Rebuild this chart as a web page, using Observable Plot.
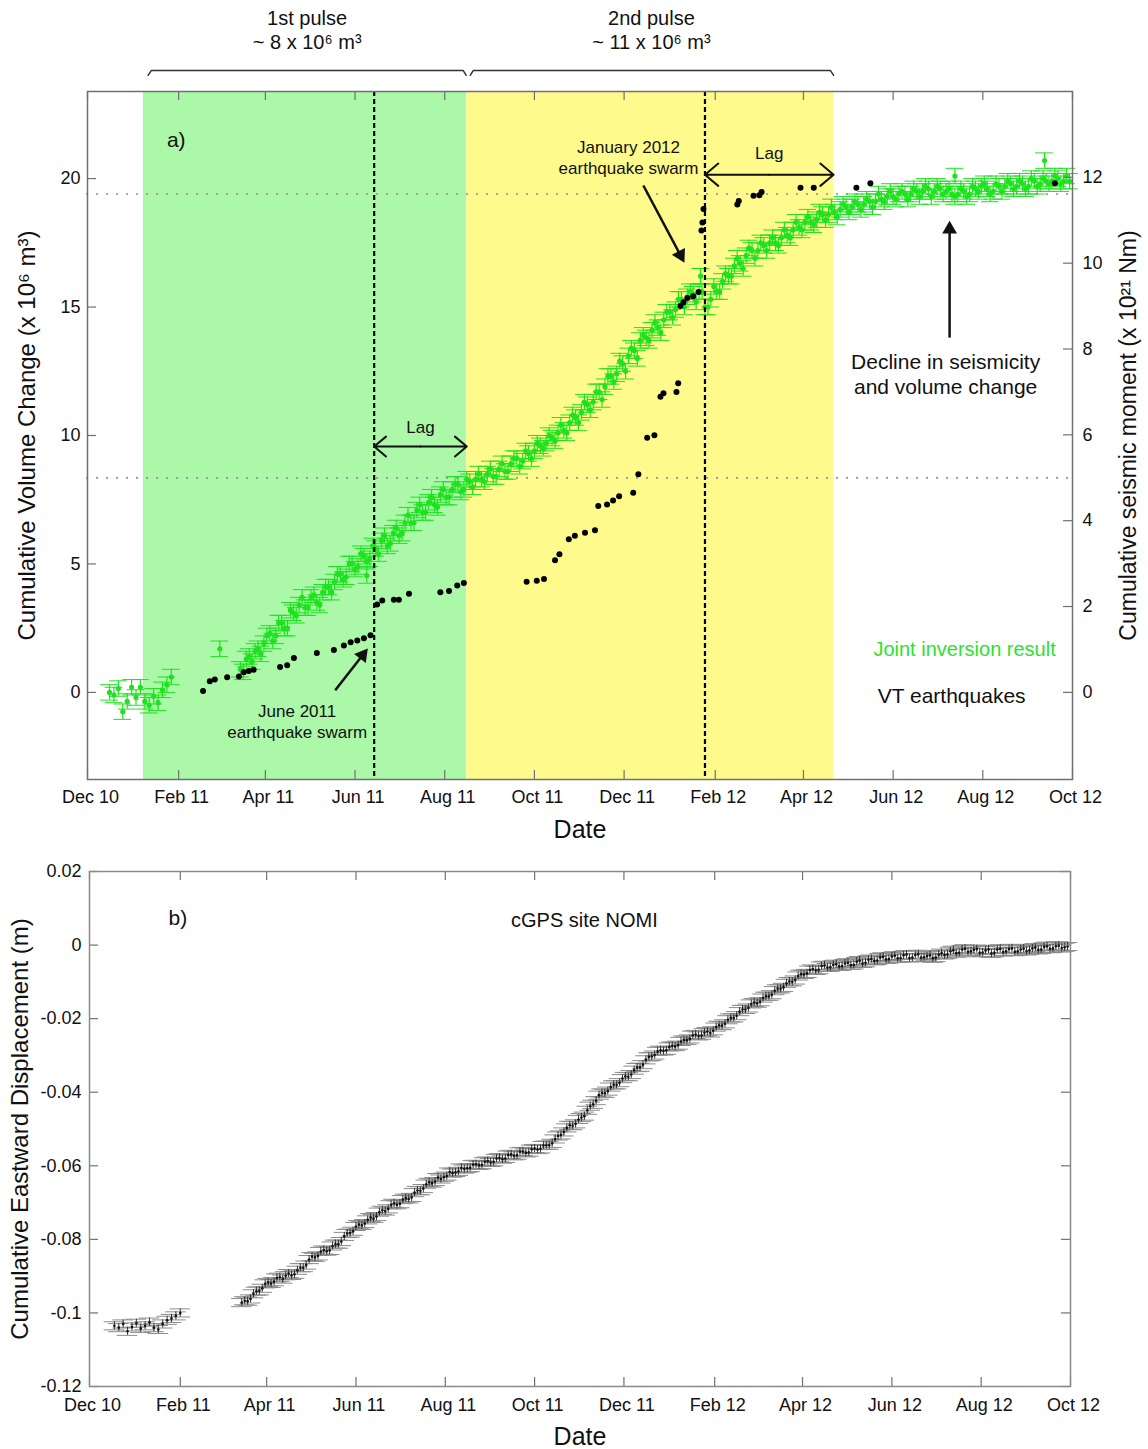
<!DOCTYPE html>
<html>
<head>
<meta charset="utf-8">
<script src="https://cdn.jsdelivr.net/npm/d3@7"></script>
<script src="https://cdn.jsdelivr.net/npm/@observablehq/plot@0.6"></script>
<style>
  html, body { margin: 0; background: #fff; overflow: hidden; }
  #fig { position: relative; width: 1148px; height: 1449px; }
  #fig svg { position: absolute; left: 0; }
</style>
</head>
<body>
<div id="fig"></div>
<script>
const FONT = '"Liberation Sans", Arial, Helvetica, sans-serif';

// Dates in the series are counted in days from 1 December 2010.
const epoch = Date.UTC(2010, 11, 1);
const day = n => new Date(epoch + n * 864e5);

// ---------- axes ----------
const monthTicks = ["2010-12-01", "2011-02-01", "2011-04-01", "2011-06-01", "2011-08-01", "2011-10-01",
                    "2011-12-01", "2012-02-01", "2012-04-01", "2012-06-01", "2012-08-01", "2012-10-01"];
const dateDomain = ["2010-12-01", "2012-10-01"];
const volumeDomain = [-3.39, 23.39];
const volumeTicks = [0, 5, 10, 15, 20];
const momentDomain = [-2.03, 14];
const momentTicks = [0, 2, 4, 6, 8, 10, 12];
const eastDomain = [-0.12, 0.02];
const eastTicks = [-0.12, -0.1, -0.08, -0.06, -0.04, -0.02, 0, 0.02];

// ---------- panel a: joint inversion volume change (x 10^6 m^3) ----------
const greenEarlyStart = 15, greenEarlyStep = 3;
const greenEarly = [0.0, -0.1, 0.15, -0.75, -0.35, 0.2, -0.2, 0.2, -0.35, -0.5, -0.15, -0.4, 0.1, 0.3, 0.6];
const greenMainStart = 104, greenMainStep = 4;
const greenMain = [
  0.9, 1.3, 1.2, 1.7, 1.9, 2.3, 2.2, 2.7, 2.5, 3.1,
  3.4, 3.3, 3.7, 3.5, 3.9, 4.1, 4.3, 4.6, 4.5, 5.0,
  4.9, 5.3, 5.2, 5.6, 5.9, 5.7, 6.2, 6.1, 6.6, 6.6,
  7.1, 7.0, 7.4, 7.3, 7.7, 7.6, 7.9, 8.1, 7.9, 8.2,
  8.3, 8.3, 8.5, 8.4, 8.7, 8.6, 8.9, 9.1, 9.0, 9.3,
  9.4, 9.6, 9.7, 9.9, 10.1, 10.2, 10.5, 10.7, 10.9, 11.2,
  11.3, 11.7, 11.9, 12.3, 12.4, 12.8, 13.1, 13.3, 13.7, 13.8,
  14.1, 14.2, 14.5, 14.8, 14.9, 15.3, 15.4, 15.5, 15.6, 15.0,
  15.3, 15.6, 16.0, 16.2, 16.6, 16.7, 17.0, 17.2, 17.2, 17.4,
  17.5, 17.5, 17.7, 17.8, 18.0, 18.1, 18.3, 18.3, 18.4, 18.6,
  18.6, 18.7, 18.8, 18.9, 18.9, 19.0, 19.0, 19.1, 19.1, 19.2,
  19.3, 19.3, 19.4, 19.4, 19.4, 19.5, 19.5, 19.6, 19.5, 19.6,
  19.5, 19.4, 19.4, 19.5, 19.4, 19.6, 19.7, 19.6, 19.5, 19.7,
  19.7, 19.8, 19.7, 19.8, 19.7, 19.9, 19.8, 19.9, 19.9, 20.0,
  19.9, 19.9
];
// solutions falling between the ones above
const greenMidStart = 106, greenMidStep = 4;
const greenMid = [
  0.8, 1.4, 1.6, 1.5, 2.2, 2.0, 2.7, 2.5, 3.2, 3.0,
  3.7, 3.3, 3.8, 3.4, 4.1, 3.9, 4.6, 4.4, 5.0, 4.8,
  5.4, 5.1, 5.7, 5.4, 6.1, 5.8, 6.4, 6.2, 6.9, 6.6,
  7.3, 7.0, 7.6, 7.2, 7.9, 7.6, 8.1, 7.8, 8.3, 8.0,
  8.5, 8.2, 8.7, 8.4, 8.9, 8.6, 9.1, 8.8, 9.4, 9.1,
  9.7, 9.5, 10.0, 9.8, 10.4, 10.1, 10.8, 10.5, 11.3, 11.0,
  11.7, 11.4, 12.3, 12.1, 12.9, 12.5, 13.4, 13.0, 13.9, 13.7,
  14.4, 14.0, 14.8, 14.6, 15.3, 15.0, 15.6, 15.2, 15.6, 15.0,
  15.8, 15.6, 16.3, 16.2, 16.9, 16.5, 17.3, 16.9, 17.5, 17.2,
  17.7, 17.4, 18.0, 17.7, 18.3, 18.0, 18.5, 18.2, 18.7, 18.4,
  18.9, 18.5, 19.0, 18.7, 19.1, 18.8, 19.2, 18.9, 19.4, 19.1,
  19.5, 19.2, 19.5, 19.2, 19.6, 19.3, 19.7, 19.3, 19.7, 19.4,
  19.6, 19.3, 19.6, 19.3, 19.7, 19.5, 19.8, 19.4, 19.8, 19.5,
  19.9, 19.6, 19.9, 19.6, 20.0, 19.7, 20.0, 19.8, 20.1, 19.8,
  20.1
];
const greenOutliers = [[90, 1.7], [190, 4.55], [417, 16.2], [590, 20.1], [651, 20.7]];
const greenError = 0.3;     // +/- vertical error (x 10^6 m^3)
const greenCapDays = 6;     // half-width of the error-bar caps

// ---------- panel a: cumulative VT seismic moment (x 10^21 Nm) ----------
const quakeDays = [78.6, 83.2, 86.6, 95, 103, 106.3, 109.7, 113, 131, 135.8, 140.4, 156, 167.6, 174.4, 179, 183.5,
  188, 192.5, 197, 200.5, 208.4, 211.8, 218.7, 240, 245.9, 251.5, 256, 298.7, 305.6, 310.5, 318, 321, 327.4,
  331.5, 338.4, 345.2, 347.4, 353.4, 357.5, 361.6, 371.2, 374.7, 380.7, 385.6, 389.7, 391.8, 400.6, 401.8,
  403.3, 405.4, 408, 412, 415.6, 417.6, 418.3, 419, 442, 443, 453, 457, 458.5, 485, 494, 523, 532.5, 658];
const quakeMoment = [0.03, 0.26, 0.30, 0.35, 0.37, 0.47, 0.50, 0.53, 0.59, 0.63, 0.80, 0.92, 0.99, 1.09, 1.17, 1.21,
  1.26, 1.33, 2.05, 2.14, 2.16, 2.16, 2.30, 2.33, 2.36, 2.49, 2.55, 2.58, 2.60, 2.64, 3.08, 3.22, 3.57,
  3.65, 3.72, 3.78, 4.34, 4.38, 4.47, 4.57, 4.65, 5.08, 5.93, 5.99, 6.89, 6.97, 7.00, 7.20,
  9.00, 9.09, 9.19, 9.23, 9.33, 10.76, 10.95, 11.26, 11.37, 11.45, 11.57, 11.58, 11.66, 11.76, 11.76, 11.76, 11.86, 11.86];

// ---------- panel a: annotations ----------
const pulseSpans = [
  {start: "2011-01-08", end: "2011-08-16", fill: "#aaf8a8"},
  {start: "2011-08-16", end: "2012-04-21T12:00", fill: "#fffa8c"}
];
const volumeLevels = [8.35, 19.4];
const swarmDates = ["2011-06-14", "2012-01-25"];
const lagSpans = [
  {from: "2011-06-14", to: "2011-08-16", v: 9.57, labelV: 10.31},
  {from: "2012-01-25", to: "2012-04-21T12:00", v: 20.15, labelV: 20.97}
];
const pulseBrackets = [
  {pulse: 1, d: 41.2, v: 24.02}, {pulse: 1, d: 43.5, v: 24.21}, {pulse: 1, d: 255.5, v: 24.21}, {pulse: 1, d: 257.6, v: 24.02},
  {pulse: 2, d: 260.3, v: 24.02}, {pulse: 2, d: 262.5, v: 24.21}, {pulse: 2, d: 505.3, v: 24.21}, {pulse: 2, d: 507.5, v: 24.02}
];
const pulseLabels = [
  {d: 149.4, v: 26.23, text: "1st pulse"}, {d: 149.4, v: 25.3, text: "~ 8 x 10\u2076 m\u00b3"},
  {d: 383.6, v: 26.23, text: "2nd pulse"}, {d: 383.6, v: 25.3, text: "~ 11 x 10\u2076 m\u00b3"}
];
const pointerArrows = [
  {d1: 168.5, v1: 0.08, d2: 187.1, v2: 1.45, angle: 38},
  {d1: 378.1, v1: 19.73, d2: 403.3, v2: 17.02, angle: 152},
  {d1: 586.4, v1: 13.81, d2: 586.4, v2: 18.03, angle: 0}
];
const noteLabels = [
  {d: 368, v: 20.84, text: "January 2012\nearthquake swarm", size: 17},
  {d: 142.6, v: -1.11, text: "June 2011\nearthquake swarm", size: 17},
  {d: 583.7, v: 12.43, text: "Decline in seismicity\nand volume change", size: 21},
  {d: 587.8, v: -0.08, text: "VT earthquakes", size: 21}
];

// ---------- panel b: cGPS NOMI eastward displacement (m) ----------
const gpsEarlyStart = 17, gpsEarlyStep = 3;
const gpsEarly = [-0.1035, -0.1040, -0.1030, -0.1050, -0.1038, -0.1028, -0.1042, -0.1035,
                  -0.1025, -0.1040, -0.1045, -0.1030, -0.1020, -0.1015, -0.1008, -0.1000];
const gpsMainStart = 104, gpsMainStep = 4;
const gpsMain = [
  -0.0972, -0.0968, -0.0948, -0.0940, -0.0921, -0.0920, -0.0905, -0.0908, -0.0893, -0.0895,
  -0.0877, -0.0870, -0.0847, -0.0845, -0.0829, -0.0830, -0.0813, -0.0806, -0.0784, -0.0778,
  -0.0760, -0.0757, -0.0741, -0.0738, -0.0721, -0.0717, -0.0702, -0.0703, -0.0688, -0.0686,
  -0.0667, -0.0662, -0.0645, -0.0643, -0.0636, -0.0628, -0.0620, -0.0615, -0.0609, -0.0605,
  -0.0596, -0.0597, -0.0587, -0.0589, -0.0578, -0.0580, -0.0569, -0.0571, -0.0561, -0.0563,
  -0.0553, -0.0554, -0.0544, -0.0539, -0.0519, -0.0508, -0.0490, -0.0486, -0.0469, -0.0449,
  -0.0433, -0.0408, -0.0403, -0.0386, -0.0380, -0.0363, -0.0358, -0.0340, -0.0332, -0.0312,
  -0.0303, -0.0289, -0.0288, -0.0277, -0.0276, -0.0262, -0.0259, -0.0245, -0.0247, -0.0238,
  -0.0239, -0.0223, -0.0219, -0.0203, -0.0198, -0.0181, -0.0175, -0.0160, -0.0158, -0.0144,
  -0.0139, -0.0124, -0.0119, -0.0104, -0.0100, -0.0084, -0.0080, -0.0068, -0.0069, -0.0057,
  -0.0061, -0.0054, -0.0058, -0.0050, -0.0055, -0.0045, -0.0050, -0.0040, -0.0043, -0.0034,
  -0.0039, -0.0031, -0.0036, -0.0028, -0.0035, -0.0027, -0.0034, -0.0030, -0.0036, -0.0026,
  -0.0027, -0.0017, -0.0022, -0.0012, -0.0018, -0.0013, -0.0021, -0.0015, -0.0023, -0.0012,
  -0.0019, -0.0011, -0.0018, -0.0012, -0.0016, -0.0009, -0.0013, -0.0005, -0.0010, -0.0003,
  -0.0008, -0.0004
];
// daily positions falling between the ones above
const gpsMidStart = 106, gpsMidStep = 4;
const gpsMid = [
  -0.0967, -0.0962, -0.0941, -0.0933, -0.0917, -0.0915, -0.0903, -0.0899, -0.0898, -0.0884,
  -0.0877, -0.0855, -0.0849, -0.0833, -0.0832, -0.0818, -0.0813, -0.0792, -0.0783, -0.0765,
  -0.0762, -0.0747, -0.0743, -0.0726, -0.0723, -0.0706, -0.0706, -0.0692, -0.0690, -0.0673,
  -0.0668, -0.0650, -0.0647, -0.0632, -0.0631, -0.0617, -0.0618, -0.0606, -0.0607, -0.0597,
  -0.0599, -0.0589, -0.0591, -0.0580, -0.0582, -0.0571, -0.0573, -0.0562, -0.0565, -0.0555,
  -0.0556, -0.0545, -0.0544, -0.0527, -0.0516, -0.0497, -0.0491, -0.0474, -0.0465, -0.0438,
  -0.0423, -0.0402, -0.0397, -0.0380, -0.0374, -0.0357, -0.0352, -0.0333, -0.0325, -0.0304,
  -0.0299, -0.0286, -0.0286, -0.0274, -0.0272, -0.0258, -0.0255, -0.0243, -0.0245, -0.0235,
  -0.0233, -0.0218, -0.0214, -0.0198, -0.0192, -0.0175, -0.0171, -0.0156, -0.0154, -0.0139,
  -0.0135, -0.0119, -0.0115, -0.0099, -0.0095, -0.0079, -0.0077, -0.0065, -0.0067, -0.0055,
  -0.0060, -0.0052, -0.0057, -0.0048, -0.0054, -0.0042, -0.0048, -0.0038, -0.0042, -0.0032,
  -0.0038, -0.0029, -0.0035, -0.0026, -0.0034, -0.0025, -0.0033, -0.0028, -0.0034, -0.0022,
  -0.0025, -0.0014, -0.0021, -0.0010, -0.0017, -0.0011, -0.0020, -0.0012, -0.0021, -0.0010,
  -0.0017, -0.0009, -0.0017, -0.0010, -0.0014, -0.0007, -0.0012, -0.0003, -0.0009, -0.0002,
  -0.0006
];
const gpsError = 0.0011;
const gpsCapDays = 7;

// ---------- build records ----------
const series = (values, start, step) => values.map((v, i) => ({date: day(start + i * step), v}));
const green = [
  ...series(greenEarly, greenEarlyStart, greenEarlyStep),
  ...series(greenMain, greenMainStart, greenMainStep),
  ...series(greenMid, greenMidStart, greenMidStep),
  ...greenOutliers.map(([d, v]) => ({date: day(d), v}))
];
const quakes = quakeDays.map((d, i) => ({date: day(d), m: quakeMoment[i]}));
const gps = [
  ...series(gpsEarly, gpsEarlyStart, gpsEarlyStep),
  ...series(gpsMain, gpsMainStart, gpsMainStep),
  ...series(gpsMid, gpsMidStart, gpsMidStep)
];
const shift = (date, days) => new Date(+date + days * 864e5);
const toDate = s => new Date(s);
const lagArrows = lagSpans.flatMap(s => {
  const a = toDate(s.from), b = toDate(s.to), mid = new Date((+a + +b) / 2);
  return [{x1: mid, x2: b, v: s.v}, {x1: mid, x2: a, v: s.v}];
});

const W = 1148;
const GREEN = "#1fe21f";
const AXIS = "#707070";
const tickDates = monthTicks.map(toDate);
const fmtMonth = d3.utcFormat("%b %y");
const fmtNum = d => String(+(+d).toFixed(2));

// inward ticks on the requested sides of a frame
function frameTicks(frameW, frameH, {xTop = true, yLeft = null, yRight = null}) {
  const len = 9, marks = [
    Plot.ruleX(tickDates, {x: d => d, insetTop: frameH - len, stroke: AXIS, strokeWidth: 1.2})
  ];
  if (xTop) marks.push(Plot.ruleX(tickDates, {x: d => d, insetBottom: frameH - len, stroke: AXIS, strokeWidth: 1.2}));
  if (yLeft) marks.push(Plot.ruleY(yLeft, {y: d => d, insetRight: frameW - len, stroke: AXIS, strokeWidth: 1.2}));
  if (yRight) marks.push(Plot.ruleY(yRight, {y: d => d, insetLeft: frameW - len, stroke: AXIS, strokeWidth: 1.2}));
  return marks;
}

const titleText = {textAnchor: "middle", lineAnchor: "middle", fill: "#111"};

// ---------- panel a ----------
const topH = 850;
const topM = {marginTop: 91, marginRight: 76, marginBottom: 71, marginLeft: 87};
const topFrameW = W - topM.marginLeft - topM.marginRight;
const topFrameH = topH - topM.marginTop - topM.marginBottom;

const panelA = Plot.plot({
  width: W, height: topH, ...topM,
  style: {fontFamily: FONT, background: "transparent", overflow: "visible"},
  x: {type: "utc", domain: dateDomain.map(toDate), axis: null},
  y: {domain: volumeDomain, axis: null},
  marks: [
    Plot.rect(pulseSpans, {x1: d => toDate(d.start), x2: d => toDate(d.end), fill: d => d.fill}),
    Plot.ruleY(volumeLevels, {y: d => d, stroke: "#9a9a9a", strokeWidth: 2.2, strokeDasharray: "0.1,9.9", strokeLinecap: "round"}),
    // error-bar caps, whiskers and markers of the joint inversion
    Plot.ruleY(green, {y: d => d.v + greenError, x1: d => shift(d.date, -greenCapDays), x2: d => shift(d.date, greenCapDays), stroke: GREEN, strokeWidth: 1}),
    Plot.ruleY(green, {y: d => d.v - greenError, x1: d => shift(d.date, -greenCapDays), x2: d => shift(d.date, greenCapDays), stroke: GREEN, strokeWidth: 1}),
    Plot.ruleX(green, {x: "date", y1: d => d.v - greenError, y2: d => d.v + greenError, stroke: GREEN, strokeWidth: 1.2}),
    Plot.dot(green, {x: "date", y: "v", r: 2.6, fill: GREEN}),
    // swarm onsets
    Plot.ruleX(swarmDates, {x: toDate, stroke: "#000", strokeWidth: 2.2, strokeDasharray: "5,3"}),
    // lag arrows
    Plot.arrow(lagArrows, {x1: "x1", x2: "x2", y1: "v", y2: "v", stroke: "#111", strokeWidth: 2, headLength: 13, headAngle: 80}),
    Plot.text(lagSpans, {x: d => new Date((+toDate(d.from) + +toDate(d.to)) / 2), y: "labelV", text: () => "Lag", fontSize: 17, fill: "#111"}),
    // pointer arrows
    Plot.link(pointerArrows, {x1: d => day(d.d1), y1: "v1", x2: d => day(d.d2), y2: "v2", stroke: "#111", strokeWidth: 2.5}),
    Plot.dot(pointerArrows, {x: d => day(d.d2), y: "v2", symbol: "triangle", r: 5.5, fill: "#111", rotate: "angle"}),
    Plot.text(noteLabels, {x: d => day(d.d), y: "v", text: "text", fontSize: d => d.size, lineHeight: 1.2, fill: "#111"}),
    Plot.text(["Joint inversion result"], {x: day(658.6), y: 1.67, textAnchor: "end", fontSize: 20, fill: "#2ee02e"}),
    Plot.text(["a)"], {x: day(54), y: 21.48, textAnchor: "start", fontSize: 21, fill: "#111"}),
    // pulse brackets above the frame
    Plot.line(pulseBrackets, {x: d => day(d.d), y: "v", z: "pulse", stroke: "#333", strokeWidth: 1.5}),
    Plot.text(pulseLabels, {x: d => day(d.d), y: "v", text: "text", fontSize: 20, fill: "#111"}),
    // axes
    ...frameTicks(topFrameW, topFrameH, {yLeft: volumeTicks}),
    Plot.axisX({ticks: tickDates, tickFormat: fmtMonth, tickSize: 0, tickPadding: 11, dx: 3, fontSize: 18, label: null, fill: "#111"}),
    Plot.axisY({anchor: "left", ticks: volumeTicks, tickFormat: fmtNum, tickSize: 0, tickPadding: 7, fontSize: 18, label: null, fill: "#111"}),
    Plot.frame({stroke: AXIS, strokeWidth: 1.5}),
    Plot.text(["Cumulative Volume Change (x 10\u2076 m\u00b3)"], {...titleText, frameAnchor: "left", dx: -60, rotate: -90, fontSize: 24}),
    Plot.text(["Date"], {...titleText, frameAnchor: "bottom", dy: 50, fontSize: 25})
  ]
});

// seismic moment drawn on its own right-hand scale over the same frame
const panelAMoment = Plot.plot({
  width: W, height: topH, ...topM,
  style: {fontFamily: FONT, background: "transparent", overflow: "visible"},
  x: {type: "utc", domain: dateDomain.map(toDate), axis: null},
  y: {domain: momentDomain, axis: null},
  marks: [
    Plot.dot(quakes, {x: "date", y: "m", r: 3, fill: "#000"}),
    Plot.ruleY(momentTicks, {y: d => d, insetLeft: topFrameW - 9, stroke: AXIS, strokeWidth: 1.2}),
    Plot.axisY({anchor: "right", ticks: momentTicks, tickFormat: fmtNum, tickSize: 0, tickPadding: 10, fontSize: 18, label: null, fill: "#111"}),
    Plot.text(["Cumulative seismic moment (x 10\u00b2\u00b9 Nm)"], {...titleText, frameAnchor: "right", dx: 56, rotate: -90, fontSize: 23})
  ]
});

// ---------- panel b ----------
const botH = 599;
const botM = {marginTop: 21, marginRight: 78, marginBottom: 63, marginLeft: 89};
const botFrameW = W - botM.marginLeft - botM.marginRight;
const botFrameH = botH - botM.marginTop - botM.marginBottom;

const panelB = Plot.plot({
  width: W, height: botH, ...botM,
  style: {fontFamily: FONT, background: "transparent", overflow: "visible"},
  x: {type: "utc", domain: dateDomain.map(toDate), axis: null},
  y: {domain: eastDomain, axis: null},
  marks: [
    Plot.ruleY(gps, {y: d => d.v + gpsError, x1: d => shift(d.date, -gpsCapDays), x2: d => shift(d.date, gpsCapDays), stroke: "#8c8c8c", strokeWidth: 1}),
    Plot.ruleY(gps, {y: d => d.v - gpsError, x1: d => shift(d.date, -gpsCapDays), x2: d => shift(d.date, gpsCapDays), stroke: "#8c8c8c", strokeWidth: 1}),
    Plot.ruleX(gps, {x: "date", y1: d => d.v - gpsError, y2: d => d.v + gpsError, stroke: "#333", strokeWidth: 1}),
    Plot.dot(gps, {x: "date", y: "v", r: 1.3, fill: "#111"}),
    ...frameTicks(botFrameW, botFrameH, {yLeft: eastTicks, yRight: eastTicks}),
    Plot.axisX({ticks: tickDates, tickFormat: fmtMonth, tickSize: 0, tickPadding: 12, dx: 3, fontSize: 18, label: null, fill: "#111"}),
    Plot.axisY({anchor: "left", ticks: eastTicks, tickFormat: fmtNum, tickSize: 0, tickPadding: 8, fontSize: 18, label: null, fill: "#111"}),
    Plot.frame({stroke: "#8a8a8a", strokeWidth: 1.5}),
    Plot.text(["b)"], {x: day(54), y: 0.0072, textAnchor: "start", fontSize: 21, fill: "#111"}),
    Plot.text(["cGPS site NOMI"], {x: day(338), y: 0.0067, fontSize: 20, fill: "#111"}),
    Plot.text(["Cumulative Eastward Displacement (m)"], {...titleText, frameAnchor: "left", dx: -69, rotate: -90, fontSize: 24}),
    Plot.text(["Date"], {...titleText, frameAnchor: "bottom", dy: 50, fontSize: 25})
  ]
});

const fig = document.getElementById("fig");
panelA.style.top = "0px";
panelAMoment.style.top = "0px";
panelB.style.top = "850px";
fig.append(panelA, panelAMoment, panelB);
</script>
</body>
</html>
